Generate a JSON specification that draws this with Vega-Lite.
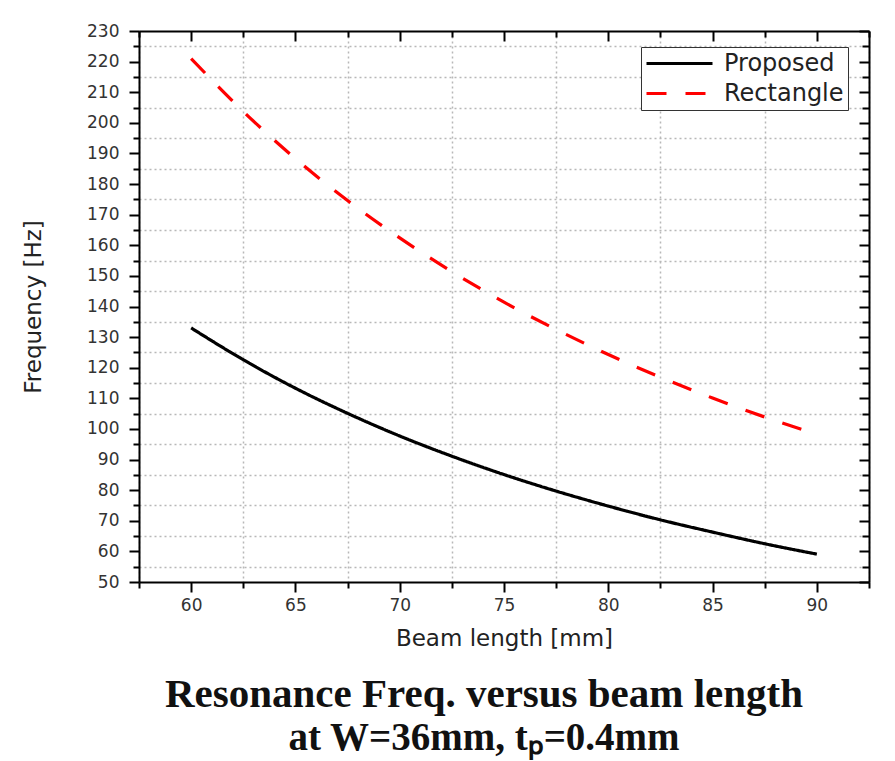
{
  "$schema": "https://vega.github.io/schema/vega-lite/v6.json",
  "width": 730,
  "height": 551,
  "autosize": {"type": "none"},
  "padding": {"left": 139, "top": 31, "right": 26, "bottom": 179},
  "background": "white",
  "data": {
    "values": [
      {"length": 60, "freq": 133.0, "series": "Proposed"},
      {"length": 62.5, "freq": 122.6, "series": "Proposed"},
      {"length": 65, "freq": 113.3, "series": "Proposed"},
      {"length": 67.5, "freq": 105.1, "series": "Proposed"},
      {"length": 70, "freq": 97.7, "series": "Proposed"},
      {"length": 72.5, "freq": 91.1, "series": "Proposed"},
      {"length": 75, "freq": 85.1, "series": "Proposed"},
      {"length": 77.5, "freq": 79.7, "series": "Proposed"},
      {"length": 80, "freq": 74.8, "series": "Proposed"},
      {"length": 82.5, "freq": 70.3, "series": "Proposed"},
      {"length": 85, "freq": 66.3, "series": "Proposed"},
      {"length": 87.5, "freq": 62.5, "series": "Proposed"},
      {"length": 90, "freq": 59.1, "series": "Proposed"},
      {"length": 60, "freq": 221.0, "series": "Rectangle"},
      {"length": 62.5, "freq": 203.7, "series": "Rectangle"},
      {"length": 65, "freq": 188.3, "series": "Rectangle"},
      {"length": 67.5, "freq": 174.6, "series": "Rectangle"},
      {"length": 70, "freq": 162.4, "series": "Rectangle"},
      {"length": 72.5, "freq": 151.4, "series": "Rectangle"},
      {"length": 75, "freq": 141.4, "series": "Rectangle"},
      {"length": 77.5, "freq": 132.5, "series": "Rectangle"},
      {"length": 80, "freq": 124.3, "series": "Rectangle"},
      {"length": 82.5, "freq": 116.9, "series": "Rectangle"},
      {"length": 85, "freq": 110.1, "series": "Rectangle"},
      {"length": 87.5, "freq": 103.9, "series": "Rectangle"},
      {"length": 90, "freq": 98.2, "series": "Rectangle"}
    ]
  },
  "title": {
    "text": "Resonance Freq. versus beam length",
    "subtitle": "at W=36mm, tₚ=0.4mm",
    "orient": "bottom",
    "anchor": "middle",
    "offset": 25,
    "dx": -20,
    "font": "Liberation Serif",
    "fontSize": 41,
    "fontWeight": "bold",
    "color": "#111111",
    "subtitleFont": "Liberation Serif",
    "subtitleFontSize": 39,
    "subtitleFontWeight": "bold",
    "subtitleColor": "#111111",
    "subtitlePadding": 3
  },
  "layer": [
    {
      "mark": {"type": "line", "strokeWidth": 3.2, "interpolate": "monotone"},
      "encoding": {
        "x": {
          "field": "length",
          "type": "quantitative",
          "scale": {"domain": [57.5, 92.5], "nice": false, "zero": false},
          "axis": {
            "orient": "bottom",
            "title": "Beam length [mm]",
            "values": [57.5, 60, 62.5, 65, 67.5, 70, 72.5, 75, 77.5, 80, 82.5, 85, 87.5, 90, 92.5],
            "labelExpr": "datum.value % 5 === 0 ? datum.label : ''",
            "tickSize": {"condition": {"test": "datum.value % 5 === 0", "value": 10}, "value": 6},
            "grid": true,
            "gridOpacity": {"condition": {"test": "datum.value % 5 === 0", "value": 0}, "value": 1},
            "labelPadding": 5,
            "titlePadding": 14
          }
        },
        "y": {
          "field": "freq",
          "type": "quantitative",
          "scale": {"domain": [50, 230], "nice": false, "zero": false},
          "axis": {
            "orient": "left",
            "title": "Frequency [Hz]",
            "values": [50, 55, 60, 65, 70, 75, 80, 85, 90, 95, 100, 105, 110, 115, 120, 125, 130, 135, 140, 145, 150, 155, 160, 165, 170, 175, 180, 185, 190, 195, 200, 205, 210, 215, 220, 225, 230],
            "labelExpr": "datum.value % 10 === 0 ? datum.label : ''",
            "tickSize": {"condition": {"test": "datum.value % 10 === 0", "value": 10}, "value": 6},
            "grid": true,
            "gridOpacity": {"condition": {"test": "datum.value % 10 === 0", "value": 0}, "value": 1},
            "labelPadding": 10,
            "titlePadding": 41
          }
        },
        "color": {
          "field": "series",
          "type": "nominal",
          "scale": {"domain": ["Proposed", "Rectangle"], "range": ["#000000", "#ff0000"]},
          "legend": {"title": null}
        },
        "strokeDash": {
          "field": "series",
          "type": "nominal",
          "scale": {"domain": ["Proposed", "Rectangle"], "range": [[1, 0], [20, 19]]},
          "legend": {"title": null}
        }
      }
    },
    {
      "mark": {"type": "line", "opacity": 0},
      "encoding": {
        "x": {
          "field": "length",
          "type": "quantitative",
          "scale": {"domain": [57.5, 92.5], "nice": false, "zero": false},
          "axis": {
            "orient": "top",
            "title": null,
            "labels": false,
            "grid": false,
            "values": [57.5, 60, 62.5, 65, 67.5, 70, 72.5, 75, 77.5, 80, 82.5, 85, 87.5, 90, 92.5],
            "tickSize": {"condition": {"test": "datum.value % 5 === 0", "value": -10}, "value": -6}
          }
        },
        "y": {
          "field": "freq",
          "type": "quantitative",
          "scale": {"domain": [50, 230], "nice": false, "zero": false},
          "axis": {
            "orient": "right",
            "title": null,
            "labels": false,
            "grid": false,
            "values": [50, 55, 60, 65, 70, 75, 80, 85, 90, 95, 100, 105, 110, 115, 120, 125, 130, 135, 140, 145, 150, 155, 160, 165, 170, 175, 180, 185, 190, 195, 200, 205, 210, 215, 220, 225, 230],
            "tickSize": {"condition": {"test": "datum.value % 10 === 0", "value": -10}, "value": -7}
          }
        }
      }
    }
  ],
  "resolve": {"axis": {"x": "independent", "y": "independent"}},
  "config": {
    "view": {"stroke": null},
    "axis": {
      "domainColor": "#000000",
      "domainWidth": 2,
      "tickColor": "#000000",
      "tickWidth": 2,
      "labelFont": "DejaVu Sans",
      "labelFontSize": 17,
      "labelColor": "#333333",
      "titleFont": "DejaVu Sans",
      "titleFontSize": 23,
      "titleFontWeight": "normal",
      "titleColor": "#222222",
      "gridColor": "#b8b8b8",
      "gridDash": [2, 3],
      "gridWidth": 1.5
    },
    "legend": {
      "orient": "none",
      "legendX": 502,
      "legendY": 16,
      "strokeColor": "#333333",
      "fillColor": "#ffffff",
      "padding": 4,
      "symbolType": "M-1,0H5",
      "symbolSize": 484,
      "symbolStrokeWidth": 3,
      "labelFont": "DejaVu Sans",
      "labelFontSize": 24,
      "labelColor": "#222222",
      "labelOffset": 54,
      "rowPadding": 5
    }
  }
}
